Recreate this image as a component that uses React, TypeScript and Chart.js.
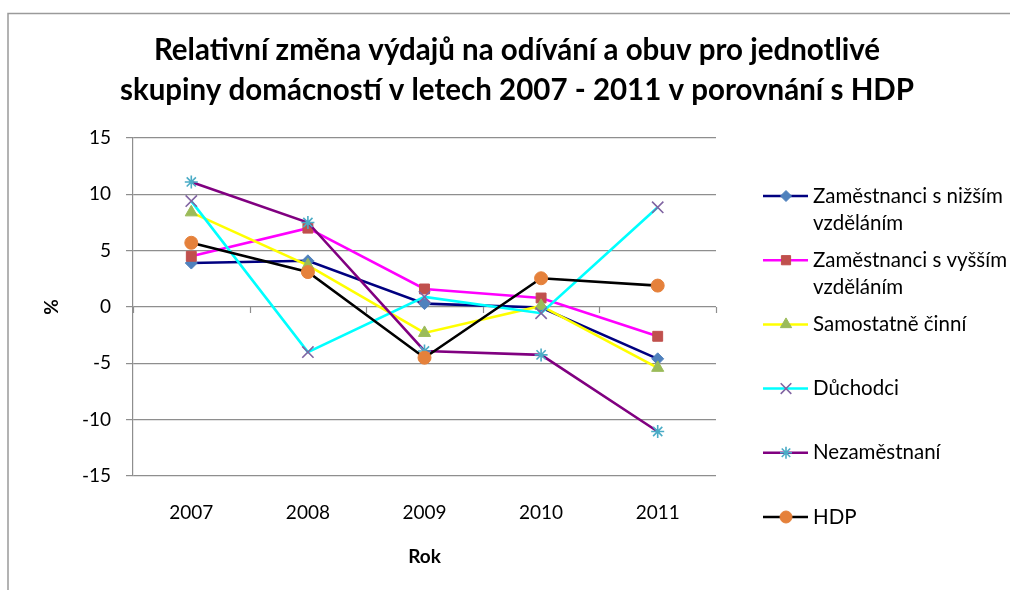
import React, { useEffect, useRef } from 'react';
import { Chart, registerables } from 'chart.js';
import { drawPoint } from 'chart.js/helpers';

Chart.register(...registerables);

const categories = ['2007', '2008', '2009', '2010', '2011'];
const seriesNames = [
  ['Zaměstnanci s nižším', 'vzděláním'],
  ['Zaměstnanci s vyšším', 'vzděláním'],
  ['Samostatně činní'],
  ['Důchodci'],
  ['Nezaměstnaní'],
  ['HDP'],
];
const nizsi = [3.9, 4.1, 0.3, -0.05, -4.6];
const vyssi = [4.5, 7.0, 1.6, 0.8, -2.6];
const samostatne = [8.4, 3.7, -2.3, 0.1, -5.4];
const duchodci = [9.4, -4.0, 0.9, -0.55, 8.85];
const nezamestnani = [11.1, 7.5, -3.9, -4.25, -11.05];
const hdp = [5.7, 3.1, -4.5, 2.55, 1.9];
const yTicks = [-15, -10, -5, 0, 5, 10, 15];

const titleLines = [
  'Relativní změna výdajů na odívání a obuv pro jednotlivé',
  'skupiny domácností v letech 2007 - 2011 v porovnání s HDP',
];
const xTitle = 'Rok';
const yTitle = '%';

const FONT = 'Lato, "Open Sans", sans-serif';
const GRID = '#8e8e8e';

const styles = [
  { line: '#000080', fill: '#4F81BD', border: '#4F81BD', pointStyle: 'rectRot', radius: 6, bw: 1 },
  { line: '#FF00FF', fill: '#C0504D', border: '#C0504D', pointStyle: 'rect', radius: 7, bw: 1 },
  { line: '#FFFF00', fill: '#9BBB59', border: '#9BBB59', pointStyle: 'triangle', radius: 7, bw: 1 },
  { line: '#00FFFF', fill: 'rgba(0,0,0,0)', border: '#8064A2', pointStyle: 'crossRot', radius: 8, bw: 1.6 },
  { line: '#800080', fill: 'rgba(0,0,0,0)', border: '#4BACC6', pointStyle: 'star', radius: 6.5, bw: 1.6 },
  { line: '#000000', fill: '#E5813B', border: '#E5813B', pointStyle: 'circle', radius: 6.5, bw: 1 },
];
const values = [nizsi, vyssi, samostatne, duchodci, nezamestnani, hdp];

const decorPlugin = {
  id: 'decor',
  afterDraw(chart: any) {
    const ctx = chart.ctx;
    const area = chart.chartArea;
    const xs = chart.scales.x;
    const ys = chart.scales.y;
    ctx.save();

    // outer frame (cropped)
    ctx.strokeStyle = '#9a9a9a';
    ctx.lineWidth = 1.5;
    ctx.beginPath();
    ctx.moveTo(8, 600);
    ctx.lineTo(8, 13.5);
    ctx.lineTo(1012, 13.5);
    ctx.stroke();

    // x-axis tick marks on the zero line
    const y0 = ys.getPixelForValue(0);
    ctx.strokeStyle = GRID;
    ctx.lineWidth = 1.2;
    for (let i = 0; i <= categories.length; i++) {
      const px = Math.round(xs.getPixelForValue(i - 0.5)) + 0.5;
      ctx.beginPath();
      ctx.moveTo(px, y0);
      ctx.lineTo(px, y0 + 6);
      ctx.stroke();
    }

    // title
    ctx.fillStyle = '#000';
    ctx.textAlign = 'center';
    ctx.textBaseline = 'middle';
    ctx.font = `bold 29.5px ${FONT}`;
    ctx.fillText(titleLines[0], 517, 50);
    ctx.fillText(titleLines[1], 517, 90);

    // axis titles
    ctx.font = `bold 19px ${FONT}`;
    ctx.fillText(xTitle, (area.left + area.right) / 2, 557);
    ctx.save();
    ctx.translate(52, (area.top + area.bottom) / 2);
    ctx.rotate(-Math.PI / 2);
    ctx.fillText(yTitle, 0, 0);
    ctx.restore();

    // legend
    ctx.font = `20.5px ${FONT}`;
    ctx.textAlign = 'left';
    chart.data.datasets.forEach((ds: any, i: number) => {
      const st = styles[i];
      const ly = 196 + i * 64.2;
      ctx.strokeStyle = st.line;
      ctx.lineWidth = 2.5;
      ctx.beginPath();
      ctx.moveTo(763, ly);
      ctx.lineTo(808, ly);
      ctx.stroke();
      ctx.fillStyle = st.fill;
      ctx.strokeStyle = st.border;
      ctx.lineWidth = st.bw;
      drawPoint(ctx, { pointStyle: st.pointStyle, radius: st.radius - 0.5, rotation: 0, borderWidth: st.bw } as any, 786, ly);
      ctx.fillStyle = '#000';
      seriesNames[i].forEach((t, k) => ctx.fillText(t, 813, ly + k * 27));
    });

    ctx.restore();
  },
};

export default function App() {
  const ref = useRef<HTMLCanvasElement | null>(null);
  useEffect(() => {
    if (!ref.current) return;
    const chart = new Chart(ref.current, {
      type: 'line',
      data: {
        labels: categories,
        datasets: values.map((v, i) => ({
          label: seriesNames[i].join(' '),
          data: v,
          borderColor: styles[i].line,
          backgroundColor: styles[i].fill,
          borderWidth: 2.6,
          pointStyle: styles[i].pointStyle as any,
          pointRadius: styles[i].radius,
          pointBackgroundColor: styles[i].fill,
          pointBorderColor: styles[i].border,
          pointBorderWidth: styles[i].bw,
          tension: 0,
          fill: false,
          order: values.length - i,
        })),
      },
      options: {
        responsive: false,
        animation: false,
        devicePixelRatio: 1,
        layout: { padding: { top: 138, left: 0, right: 294, bottom: 0 } },
        plugins: { legend: { display: false }, title: { display: false }, tooltip: { enabled: false } },
        scales: {
          x: {
            type: 'category',
            offset: true,
            grid: { display: false, drawTicks: false },
            border: { display: false },
            ticks: { color: '#000', font: { family: FONT, size: 19 }, padding: 25, maxRotation: 0 },
            afterFit: (s: any) => { s.height = 114; },
          },
          y: {
            min: -15,
            max: 15,
            afterBuildTicks: (s: any) => { s.ticks = yTicks.map((v) => ({ value: v })); },
            grid: { color: GRID, lineWidth: 1.2, tickLength: 7, drawTicks: true },
            border: { display: true, color: GRID, width: 1.2 },
            ticks: { color: '#000', font: { family: FONT, size: 19 }, padding: 15 },
            afterFit: (s: any) => { s.width = 133; },
          },
        },
      },
      plugins: [decorPlugin],
    });
    return () => chart.destroy();
  }, []);
  return (
    <div style={{ position: 'fixed', left: 0, top: 0, width: 1010, height: 590, background: '#fff' }}>
      <canvas ref={ref} width={1010} height={590} style={{ display: 'block' }} />
    </div>
  );
}
